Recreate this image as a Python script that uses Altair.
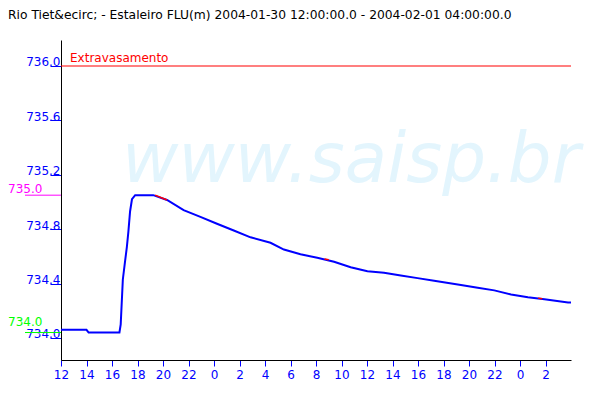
import altair as alt
import pandas as pd

# ---- data ----
times = [
    "2004-01-30T12:00", "2004-01-30T14:00", "2004-01-30T14:10", "2004-01-30T16:35",
    "2004-01-30T16:41", "2004-01-30T16:51", "2004-01-30T17:02", "2004-01-30T17:10",
    "2004-01-30T17:17", "2004-01-30T17:25", "2004-01-30T17:34", "2004-01-30T17:49",
    "2004-01-30T19:14", "2004-01-30T20:19", "2004-01-30T21:37", "2004-01-30T22:56",
    "2004-01-31T00:14", "2004-01-31T01:33", "2004-01-31T02:52", "2004-01-31T04:26",
    "2004-01-31T05:29", "2004-01-31T06:47", "2004-01-31T08:06", "2004-01-31T09:25",
    "2004-01-31T10:43", "2004-01-31T12:02", "2004-01-31T13:20", "2004-01-31T14:39",
    "2004-01-31T15:58", "2004-01-31T17:16", "2004-01-31T19:22", "2004-01-31T20:41",
    "2004-01-31T21:59", "2004-01-31T23:18", "2004-02-01T00:37", "2004-02-01T01:55",
    "2004-02-01T03:46", "2004-02-01T04:00",
]
levels = [
    734.06, 734.06, 734.04, 734.04,
    734.10, 734.43, 734.57, 734.67,
    734.78, 734.93, 735.02, 735.05,
    735.05, 735.015, 734.94, 734.89,
    734.84, 734.79, 734.74, 734.70,
    734.65, 734.615, 734.59, 734.56,
    734.52, 734.49, 734.48, 734.46,
    734.44, 734.42, 734.39, 734.37,
    734.35, 734.32, 734.30, 734.285,
    734.26, 734.26,
]

red_seg = ["a", "a", "b", "b", "c", "c"]
red_times = ["2004-01-30T19:23", "2004-01-30T20:19",
             "2004-01-31T08:40", "2004-01-31T09:00",
             "2004-02-01T01:25", "2004-02-01T01:45"]
red_levels = [735.05, 735.015, 734.58, 734.575, 734.293, 734.288]

overflow_level = 736.0
overflow_label = "Extravasamento"
alert_values = [735.05, 734.04]
alert_labels = ["735.0", "734.0"]
alert_colors = ["#ff00ff", "#00ff00"]
alert_dy = [-2, -7]

y_ticks = [734.0, 734.4, 734.8, 735.2, 735.6, 736.0]
x_start = "2004-01-30T12:00"
x_end = "2004-02-01T04:00"
x_last_tick = "2004-02-01T02:00"
title_text = "Rio Tiet&ecirc; - Estaleiro FLU(m) 2004-01-30 12:00:00.0 - 2004-02-01 04:00:00.0"
watermark = "www.saisp.br"


def ms(s):
    return int(pd.Timestamp(s, tz="UTC").value // 1_000_000)


# ---- tables ----
df = pd.DataFrame({"t": [ms(t) for t in times], "v": levels})
red = pd.DataFrame({"seg": red_seg, "t": [ms(t) for t in red_times], "v": red_levels})
alerts = pd.DataFrame({"v": alert_values, "lab": alert_labels, "col": alert_colors})

tick_times = pd.date_range(x_start, x_last_tick, freq="2h")
x_values = [ms(t) for t in tick_times]
x_domain = [ms(x_start), ms(x_end)]

BLUE = "#0000ff"
FONT = "DejaVu Sans"

x_axis = alt.Axis(values=x_values, labelExpr="utchours(datum.value)",
                  title=None, grid=False, domainColor="black", tickColor=BLUE,
                  tickSize=6, labelColor=BLUE, labelFont=FONT, labelFontSize=12,
                  labelPadding=3, labelFlush=False, labelOverlap=False)
x_scale = alt.Scale(type="utc", domain=x_domain)
y_scale = alt.Scale(domain=[733.838, 736.191], nice=False, zero=False)
y_axis = alt.Axis(values=y_ticks, format=".1f", title=None, grid=False,
                  domainColor="black", tickColor=BLUE, tickSize=11,
                  labelColor=BLUE, labelFont=FONT, labelFontSize=12,
                  labelPadding=-10, labelBaseline="alphabetic")


def xe():
    return alt.X("t:T", scale=x_scale, axis=x_axis)


def ye():
    return alt.Y("v:Q", scale=y_scale, axis=y_axis)


wm = alt.Chart(pd.DataFrame({"w": [watermark]})).mark_text(
    font=FONT, fontSize=69, fontStyle="italic", color="#e3f5fd",
    align="center", baseline="alphabetic"
).encode(text="w:N", x=alt.value(290), y=alt.value(142))

line = alt.Chart(df).mark_line(color=BLUE, strokeWidth=2, clip=True).encode(x=xe(), y=ye())

red_line = alt.Chart(red).mark_line(color="#ff0000", strokeWidth=1.5).encode(
    x=xe(), y=ye(), detail="seg:N")

over = alt.Chart(pd.DataFrame({"v": [overflow_level], "lab": [overflow_label]}))
over_rule = over.mark_rule(color="#ff0000", strokeWidth=1.2).encode(y=ye())
over_text = over.mark_text(color="#ff0000", font=FONT, fontSize=12, align="left",
                           baseline="alphabetic", dy=-4).encode(
    y=ye(), x=alt.value(9), text="lab:N")

al_rule = alt.Chart(alerts).mark_rule(strokeWidth=1).encode(
    y=ye(), x=alt.value(-36), x2=alt.value(0), color=alt.Color("col:N", scale=None))
al_texts = [
    alt.Chart(alerts.iloc[[i]]).mark_text(
        font=FONT, fontSize=12, align="left", baseline="alphabetic", dy=alert_dy[i]
    ).encode(y=ye(), x=alt.value(-53), text="lab:N", color=alt.Color("col:N", scale=None))
    for i in range(len(alerts))
]

title = alt.Chart(pd.DataFrame({"s": [title_text]})).mark_text(
    font=FONT, fontSize=12.3, color="black", align="left", baseline="alphabetic"
).encode(text="s:N", x=alt.value(-53), y=alt.value(-21))

chart = alt.layer(wm, line, red_line, over_rule, over_text, al_rule, *al_texts, title).properties(
    width=510, height=320,
    padding={"left": 53, "top": 32, "right": 14, "bottom": 30},
    autosize=alt.AutoSizeParams(type="none"),
    background="white",
).configure_view(stroke=None)

chart.save("out.html", embed_options={"renderer": "svg", "actions": False})
